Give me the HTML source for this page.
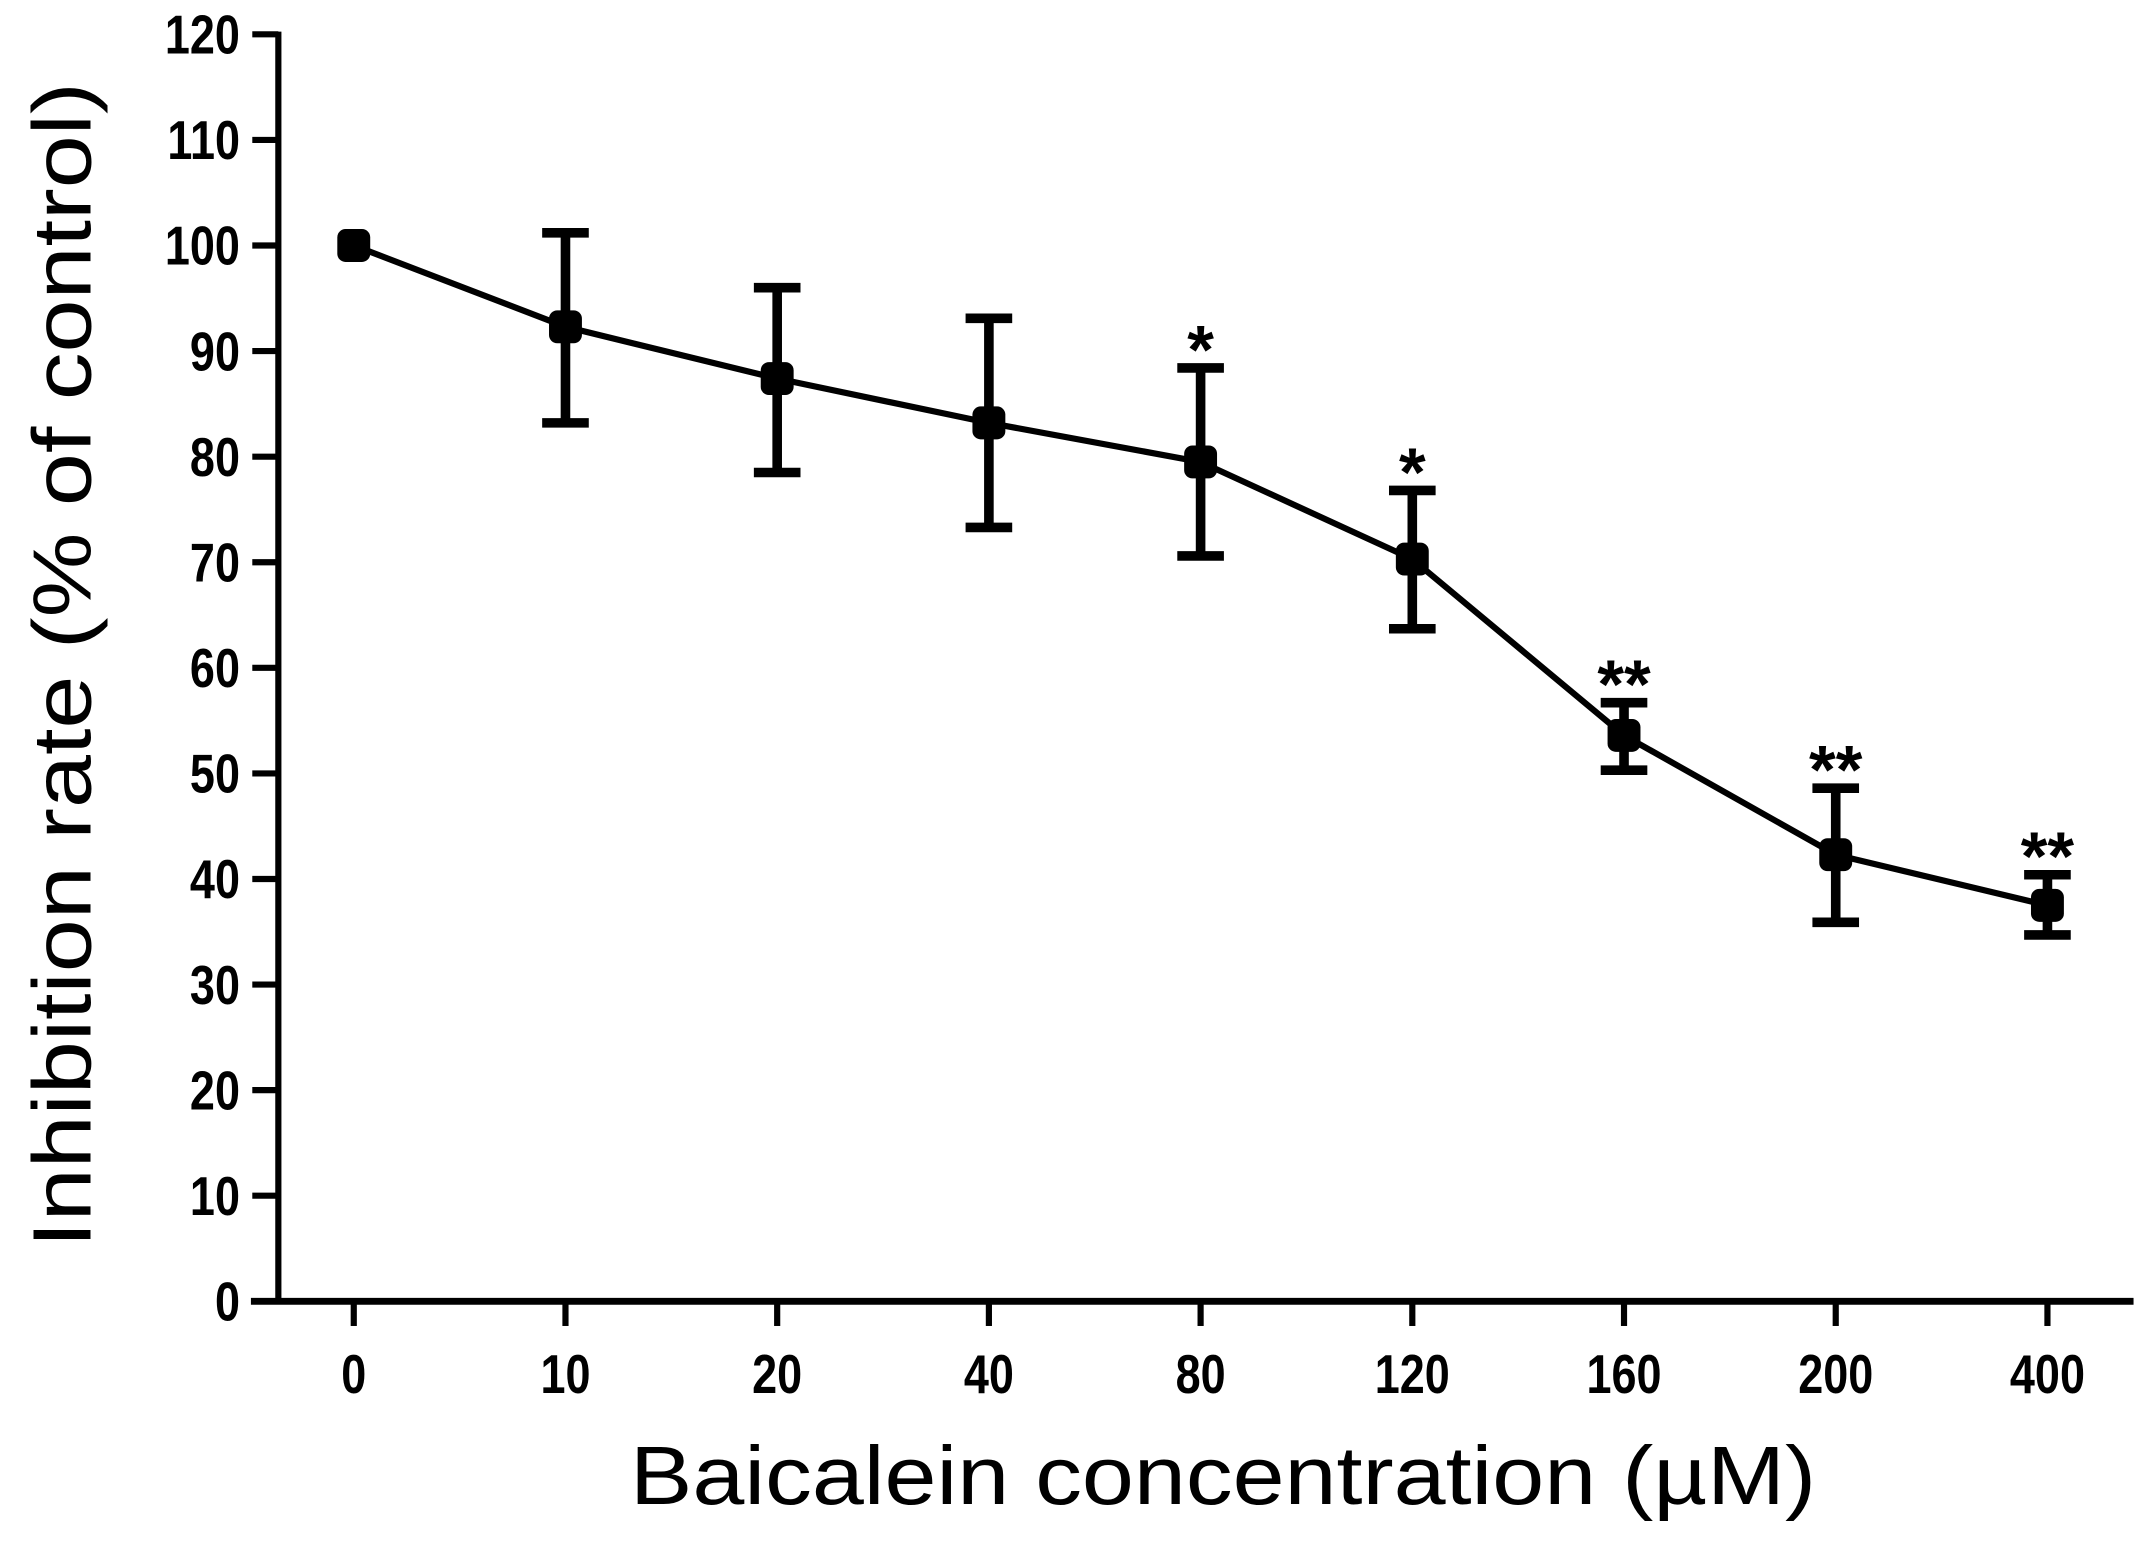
<!DOCTYPE html>
<html><head><meta charset="utf-8"><style>
html,body{margin:0;padding:0;background:#fff;}
svg{display:block;}
text{font-family:"Liberation Sans",Arial,sans-serif;fill:#000;}
</style></head>
<body>
<svg id="chart" width="2150" height="1566" viewBox="0 0 1568 1142" xmlns="http://www.w3.org/2000/svg">
<g id="axes"></g>
<g id="marks"></g>
<text transform="translate(66,485) rotate(-90)" text-anchor="middle" font-size="60" textLength="850" lengthAdjust="spacingAndGlyphs">Inhibition rate (% of control)</text>
<text x="892" y="1097" text-anchor="middle" font-size="60" textLength="865" lengthAdjust="spacingAndGlyphs">Baicalein concentration (µM)</text>
</svg>
<script>
const categories = ["0","10","20","40","80","120","160","200","400"];
const means = [100, 92.3, 87.4, 83.2, 79.5, 70.3, 53.6, 42.3, 37.5];
const errLow = [100, 83.2, 78.5, 73.3, 70.6, 63.7, 50.3, 35.9, 34.7];
const errHigh = [100, 101.2, 96, 93.1, 88.4, 76.8, 56.7, 48.6, 40.4];
const stars = ["", "", "", "", "*", "*", "**", "**", "**"];
const yTicks = [0,10,20,30,40,50,60,70,80,90,100,110,120];

const NS = "http://www.w3.org/2000/svg";
const y0 = 949, yTop = 25, yMax = 120;
function yScale(v){ return y0 - (v / yMax) * (y0 - yTop); }
function xScale(i){ return 258 + i * 154.4; }
function mk(tag, attrs, parent){
  const e = document.createElementNS(NS, tag);
  for (const k in attrs) e.setAttribute(k, attrs[k]);
  parent.appendChild(e);
  return e;
}
const axes = document.getElementById('axes');
const marks = document.getElementById('marks');

let el = mk('line', {x1:203, y1:yTop-2, x2:203, y2:y0+2, stroke:'#000','stroke-width':4.5}, axes);


el = mk('line', {x1:183, y1:y0, x2:1556, y2:y0, stroke:'#000','stroke-width':5}, axes);



yTicks.forEach(v => {
  const y = yScale(v);
  let t = mk('line', {x1:184, y1:y, x2:203, y2:y, stroke:'#000','stroke-width':4.5}, axes);
  
  
  let lb = mk('text', {transform:`translate(175,${y+14}) scale(0.82,1)`, 'text-anchor':'end','font-size':40,'font-weight':'bold'}, axes);
  
  
  lb.textContent = v;
});
categories.forEach((c, i) => {
  const x = xScale(i);
  let t = mk('line', {x1:x, y1:y0, x2:x, y2:y0+18, stroke:'#000','stroke-width':4.5}, axes);
  
  
  let lb = mk('text', {transform:`translate(${x},1016) scale(0.82,1)`, 'text-anchor':'middle','font-size':40,'font-weight':'bold'}, axes);
  
  
  lb.textContent = c;
});

let pts = means.map((m, i) => xScale(i) + ',' + yScale(m)).join(' ');
el = mk('polyline', {points:pts, fill:'none', stroke:'#000','stroke-width':4.5}, marks);



means.forEach((m, i) => {
  const x = xScale(i);
  if (errHigh[i] !== errLow[i]) {
    let eb = mk('path', {d:`M${x},${yScale(errHigh[i])}V${yScale(errLow[i])}M${x-17},${yScale(errHigh[i])}H${x+17}M${x-17},${yScale(errLow[i])}H${x+17}`, stroke:'#000','stroke-width':7, fill:'none'}, marks);
    
    
  }
  let p = mk('rect', {x:x-12, y:yScale(m)-12, width:24, height:24, rx:6, fill:'#000'}, marks);
  
  
  if (stars[i]) {
    let s = mk('text', {x:x, y:yScale(errHigh[i])+4, 'text-anchor':'middle','font-size':50,'font-weight':'bold'}, marks);
    
    
    s.textContent = stars[i];
  }
});
</script>
</body></html>
